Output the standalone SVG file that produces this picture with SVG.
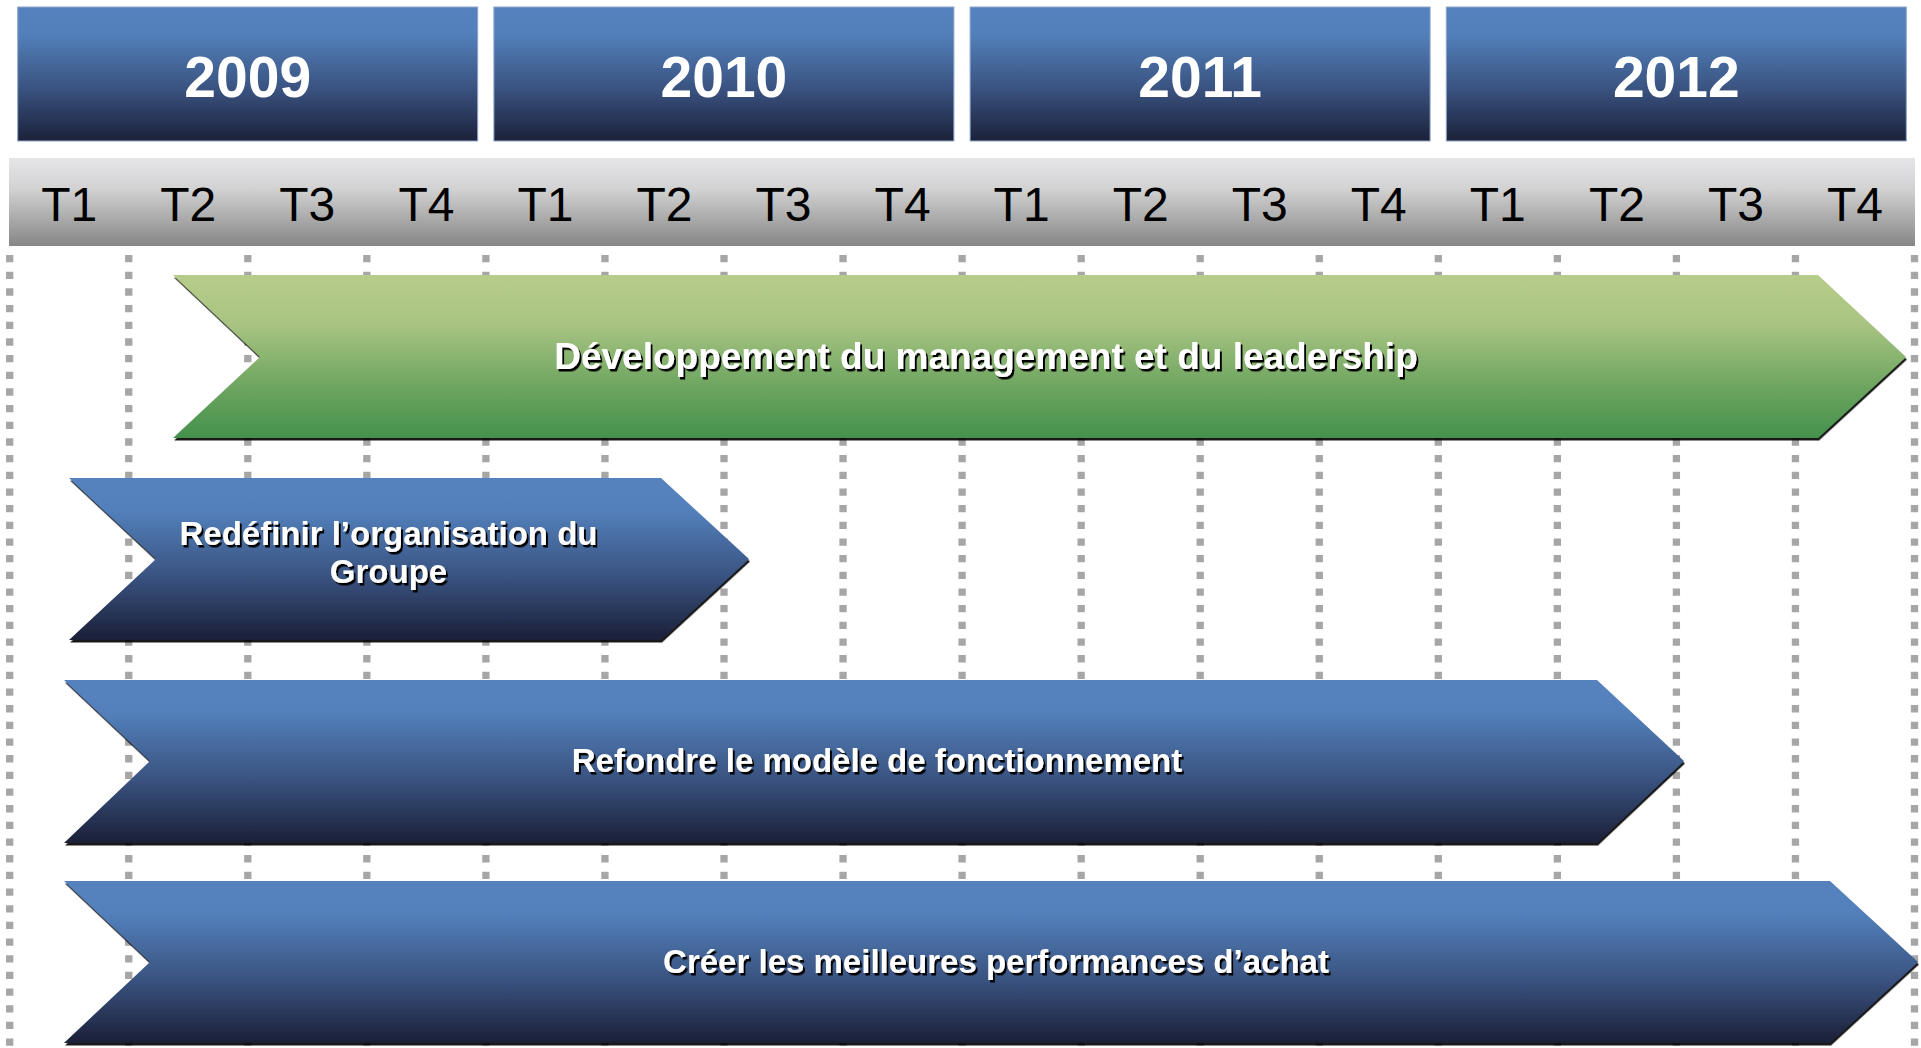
<svg xmlns="http://www.w3.org/2000/svg" width="1921" height="1048" viewBox="0 0 1921 1048">
<defs>
<linearGradient id="gYear" x1="0" y1="0" x2="0" y2="1">
<stop offset="0" stop-color="#5582be"/>
<stop offset="0.2" stop-color="#5380bb"/>
<stop offset="0.6" stop-color="#3a5482"/>
<stop offset="1" stop-color="#1c213a"/>
</linearGradient>
<linearGradient id="gBlue" x1="0" y1="0" x2="0" y2="1">
<stop offset="0" stop-color="#5582be"/>
<stop offset="0.2" stop-color="#5380bb"/>
<stop offset="0.6" stop-color="#3a5482"/>
<stop offset="1" stop-color="#1b1f37"/>
</linearGradient>
<linearGradient id="gGreen" x1="0" y1="0" x2="0" y2="1">
<stop offset="0" stop-color="#b7cc8a"/>
<stop offset="0.3" stop-color="#a9c482"/>
<stop offset="0.7" stop-color="#6ba45f"/>
<stop offset="1" stop-color="#44914c"/>
</linearGradient>
<linearGradient id="gGray" x1="0" y1="0" x2="0" y2="1">
<stop offset="0" stop-color="#e6e5e8"/>
<stop offset="0.35" stop-color="#d2d2d3"/>
<stop offset="1" stop-color="#868686"/>
</linearGradient>
<filter id="shapeShadow" x="-2%" y="-5%" width="104%" height="115%">
<feDropShadow dx="1" dy="2.5" stdDeviation="0.4" flood-color="#000" flood-opacity="0.9"/>
</filter>
<filter id="textShadow" x="-5%" y="-20%" width="110%" height="150%">
<feDropShadow dx="2" dy="2.5" stdDeviation="0.4" flood-color="#000" flood-opacity="1"/>
</filter>
</defs>
<style>
.year{fill:url(#gYear);stroke:#8fa6c9;stroke-width:1}
.yearTxt{font-family:"Liberation Sans",Arial,sans-serif;font-weight:bold;font-size:57px;fill:#fff;text-anchor:middle}
.q{font-family:"Liberation Sans",Arial,sans-serif;font-size:48px;fill:#000;text-anchor:middle}
.grid line{stroke:#a6a6a6;stroke-width:7.3;stroke-dasharray:7.3 9.37}
.arrowBlue{fill:url(#gBlue);filter:url(#shapeShadow)}
.arrowGreen{fill:url(#gGreen);filter:url(#shapeShadow)}
.lbl{font-family:"Liberation Sans",Arial,sans-serif;font-weight:bold;font-size:33px;fill:#fff;text-anchor:middle;filter:url(#textShadow)}
</style>
<rect width="1921" height="1048" fill="#fff"/>

<g id="years">
<g id="year-2009"><rect class="year" x="17.7" y="7" width="460" height="134"/><text class="yearTxt" x="247.7" y="97">2009</text></g>
<g id="year-2010"><rect class="year" x="493.9" y="7" width="460" height="134"/><text class="yearTxt" x="723.9" y="97">2010</text></g>
<g id="year-2011"><rect class="year" x="970.1" y="7" width="460" height="134"/><text class="yearTxt" x="1200.1" y="97">2011</text></g>
<g id="year-2012"><rect class="year" x="1446.3" y="7" width="460" height="134"/><text class="yearTxt" x="1676.3" y="97">2012</text></g>
</g>

<g id="quarters">
<rect x="9" y="158" width="1906" height="88" fill="url(#gGray)"/>
<text class="q" x="69.2" y="221">T1</text>
<text class="q" x="188.3" y="221">T2</text>
<text class="q" x="307.3" y="221">T3</text>
<text class="q" x="426.4" y="221">T4</text>
<text class="q" x="545.4" y="221">T1</text>
<text class="q" x="664.5" y="221">T2</text>
<text class="q" x="783.5" y="221">T3</text>
<text class="q" x="902.6" y="221">T4</text>
<text class="q" x="1021.6" y="221">T1</text>
<text class="q" x="1140.7" y="221">T2</text>
<text class="q" x="1259.7" y="221">T3</text>
<text class="q" x="1378.8" y="221">T4</text>
<text class="q" x="1497.8" y="221">T1</text>
<text class="q" x="1616.9" y="221">T2</text>
<text class="q" x="1735.9" y="221">T3</text>
<text class="q" x="1855.0" y="221">T4</text>
</g>

<g id="connectors" class="grid">
<line x1="9.7" y1="255" x2="9.7" y2="1048"/>
<line x1="128.75" y1="255" x2="128.75" y2="1048"/>
<line x1="247.8" y1="255" x2="247.8" y2="1048"/>
<line x1="366.85" y1="255" x2="366.85" y2="1048"/>
<line x1="485.9" y1="255" x2="485.9" y2="1048"/>
<line x1="604.95" y1="255" x2="604.95" y2="1048"/>
<line x1="724" y1="255" x2="724" y2="1048"/>
<line x1="843.05" y1="255" x2="843.05" y2="1048"/>
<line x1="962.1" y1="255" x2="962.1" y2="1048"/>
<line x1="1081.15" y1="255" x2="1081.15" y2="1048"/>
<line x1="1200.2" y1="255" x2="1200.2" y2="1048"/>
<line x1="1319.25" y1="255" x2="1319.25" y2="1048"/>
<line x1="1438.3" y1="255" x2="1438.3" y2="1048"/>
<line x1="1557.35" y1="255" x2="1557.35" y2="1048"/>
<line x1="1676.4" y1="255" x2="1676.4" y2="1048"/>
<line x1="1795.45" y1="255" x2="1795.45" y2="1048"/>
<line x1="1914.5" y1="255" x2="1914.5" y2="1048"/>
</g>

<g id="arrow-leadership">
<polygon class="arrowGreen" points="173,275 1818,275 1906,357 1818,438 173,438 260,357"/>
<text class="lbl" x="986" y="369" style="font-size:37px">Développement du management et du leadership</text>
</g>

<g id="arrow-organisation">
<polygon class="arrowBlue" points="69,478 661,478 749,559 661,640 69,640 156,559"/>
<text class="lbl" x="388.5" y="545">Redéfinir l’organisation du</text>
<text class="lbl" x="388.5" y="583">Groupe</text>
</g>

<g id="arrow-fonctionnement">
<polygon class="arrowBlue" points="64,680 1597,680 1684,761 1597,843 64,843 150,761"/>
<text class="lbl" x="877" y="772">Refondre le modèle de fonctionnement</text>
</g>

<g id="arrow-achat">
<polygon class="arrowBlue" points="64,881 1830,881 1918,962 1830,1043 64,1043 150,962"/>
<text class="lbl" x="996" y="973">Créer les meilleures performances d’achat</text>
</g>
</svg>
